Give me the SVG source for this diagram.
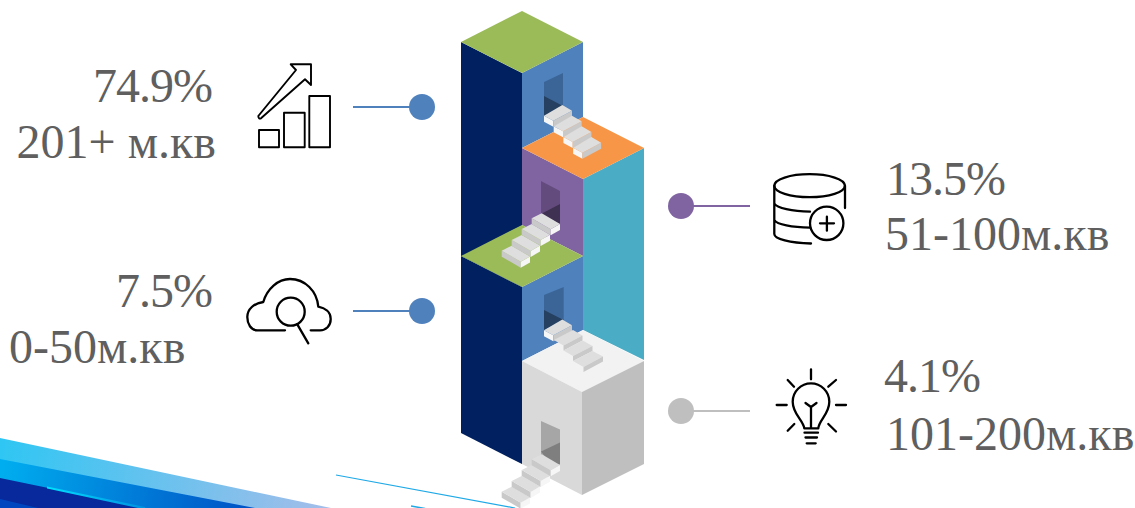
<svg xmlns="http://www.w3.org/2000/svg" width="1135" height="508" viewBox="0 0 1135 508">
<style>
text{font-family:"Liberation Serif","Times New Roman",serif;font-size:48px;fill:#5f5f5f}
.p{letter-spacing:-1px}
.e{text-anchor:end}
.ic{fill:none;stroke:#000;stroke-width:2.3;stroke-linecap:round;stroke-linejoin:round}
.t{fill:#dedede}.g{fill:#c9c9c9}.w{fill:#f6f6f6}
</style>
<defs>
<linearGradient id="g1" gradientUnits="userSpaceOnUse" x1="0" y1="450" x2="330" y2="508"><stop offset="0" stop-color="#2fc6f3"/><stop offset="1" stop-color="#a5bde9"/></linearGradient>
<linearGradient id="g2" gradientUnits="userSpaceOnUse" x1="0" y1="470" x2="255" y2="508"><stop offset="0" stop-color="#00aeef"/><stop offset="1" stop-color="#0050c4"/></linearGradient>
<linearGradient id="g3" gradientUnits="userSpaceOnUse" x1="48" y1="488" x2="145" y2="508"><stop offset="0" stop-color="#00e0ff"/><stop offset="1" stop-color="#0090e0"/></linearGradient>
<g id="sr"><polygon class="w" points="544,115.7 553.3,120.7 553.3,126.7 544,121.7"/><polygon class="g" points="553.3,120.7 572,110.7 572,116.7 553.3,126.7"/><polygon class="t" points="544,115.7 562.3,105 572,110.7 553.3,120.7"/></g>
<g id="sl"><polygon class="g" points="531.7,218.3 550.7,229.3 550.7,235.3 531.7,224.3"/><polygon class="w" points="550.7,229.3 560,224 560,230 550.7,235.3"/><polygon class="t" points="531.7,218.3 541.7,213.3 560,224 550.7,229.3"/></g>
</defs>

<g id="ribbon">
<polygon points="0,438 331,508 0,508" fill="url(#g1)"/>
<polygon points="0,459 255,508 0,508" fill="url(#g2)"/>
<polygon points="0,478 145,508 0,508" fill="#07299b"/>
<polygon points="0,499 38,508 0,508" fill="#0047bf"/>
<polygon points="47,486.5 145,507 145,508 138,508 47,488.5" fill="url(#g3)"/>
<path d="M336,475 L515,508" stroke="#1fa9e6" stroke-width="1.2" fill="none"/>
<path d="M411,506 L425,508.5" stroke="#1fa9e6" stroke-width="1.5" fill="none"/>
</g>

<g id="tower">
<polygon points="461,42 522,73 522,287 461,256" fill="#00205f"/>
<polygon points="461,256 522,287 522,464 461,433" fill="#00205f"/>
<polygon points="522,73 583,42 583,117 522,148" fill="#4f81bd"/>
<polygon points="522,148 583,179 583,256 522,225" fill="#8064a2"/>
<polygon points="583,179 644,148 644,360 583,330" fill="#4bacc6"/>
<polygon points="522,287 583,256 583,330 522,361" fill="#4f81bd"/>
<polygon points="461,42 522,11 583,42 522,73" fill="#9bbb59"/>
<polygon points="522,148 583,117 644,148 583,179" fill="#f79646"/>
<polygon points="461,256 522,225 583,256 522,287" fill="#9bbb59"/>
<polygon points="522,361 583,330 644,361 582,392" fill="#f2f2f2"/>
<polygon points="522,361 582,392 582,495 522,464" fill="#d9d9d9"/>
<polygon points="582,392 644,361 644,464 582,495" fill="#bfbfbf"/>

<polygon points="544,82 563,73 563,107 544,116" fill="#3b6597"/>
<polygon points="544,96 563,106 544,116" fill="#254061"/>
<polygon points="541,181 560,191 560,224 541,214" fill="#634c7d"/>
<polygon points="541,214 560,204 560,224" fill="#3f3151"/>
<polygon points="544,295 563.7,287 563.7,320 544,330" fill="#3b6597"/>
<polygon points="544,310 563.7,320 544,330" fill="#254061"/>
<polygon points="541,421 560,429.5 560,465 541,455" fill="#a6a6a6"/>
<polygon points="541,451.5 560,442.5 560,464 553,467" fill="#7f7f7f"/>
</g>

<g id="stairs-top">
<use href="#sr"/><use href="#sr" x="9.7" y="10.67"/><use href="#sr" x="19.4" y="21.33"/><use href="#sr" x="29.1" y="32"/>
</g>
<g id="stairs-middle">
<use href="#sl" x="-30" y="32.4"/><use href="#sl" x="-20" y="21.6"/><use href="#sl" x="-10" y="10.8"/><use href="#sl"/>
</g>
<g id="stairs-lower">
<use href="#sr" y="214.5"/>
<polygon points="553.8,340 573,330 582.5,335.5 563.5,345.5" fill="#dedede"/><polygon points="563.5,345.5 582.5,335.5 582.5,340.5 563.5,350.5" fill="#c9c9c9"/>
<polygon points="563.5,350.5 582.7,340.5 592.5,346 573,356" fill="#dedede"/><polygon points="573,356 592.5,346 592.5,351 573,361" fill="#c9c9c9"/>
<polygon points="573,361 592.5,351 603,356.5 583.5,367" fill="#dedede"/><polygon points="583.5,367 603,356.5 603,361.5 583.5,372" fill="#c9c9c9"/>
</g>
<g id="stairs-bottom">
<use href="#sl" x="-30" y="273.4"/><use href="#sl" x="-20" y="262.6"/><use href="#sl" x="-10" y="251.8"/><use href="#sl" x="0" y="241"/>
</g>

<g id="connectors">
<path d="M353,107H422" stroke="#4f81bd" stroke-width="2"/>
<path d="M353,311H422" stroke="#4f81bd" stroke-width="2"/>
<path d="M681,206H750" stroke="#8064a2" stroke-width="2"/>
<path d="M681,411H750" stroke="#bfbfbf" stroke-width="2"/>
</g>

<g id="node-large">
<text class="e p" x="212" y="102">74.9%</text>
<text class="e" x="216" y="158">201+ м.кв</text>
<g class="ic" style="stroke-width:1.9">
<rect x="259" y="130" width="20" height="17.3"/><rect x="284" y="112.7" width="20.7" height="34.6"/><rect x="309.3" y="96" width="20.7" height="51.3"/>
<path d="M290.7,64.3H311V85L305,79.3L261,118.3Q258.5,119.5 258.3,116L296,70Z"/>
</g>
<circle cx="422" cy="107" r="13" fill="#4f81bd"/>
</g>
<g id="node-small">
<text class="e p" x="212" y="307">7.5%</text>
<text x="9" y="363">0-50м.кв</text>
<g class="ic">
<path d="M285,330.3H257.3C251,330.3 247.3,324 247.3,317C247.3,309 254,303.3 263.3,302C267,289 278,279 290,279C305,279 317,291 318.3,306.7C325,308 330.7,312 330.7,319C330.7,326 326,330.3 320,330.3H310.7"/>
<circle cx="290.7" cy="311.7" r="14"/><path d="M297.3,324.3L308.3,343.3"/>
</g>
<circle cx="422" cy="311" r="13" fill="#4f81bd"/>
</g>
<g id="node-medium">
<text class="p" x="886" y="195">13.5%</text>
<text x="885" y="250">51-100м.кв</text>
<g class="ic">
<ellipse cx="809.6" cy="185.7" rx="35.3" ry="11.5"/>
<path d="M774.3,185.7V234C774.3,239 790,243 811,243.5M845,185.7V208M774.3,203.5C777,208 792,211.5 810,211.7M774.3,220C777,224.5 792,227.5 810,227.7"/>
<circle cx="826.7" cy="223.3" r="16.7"/><path d="M820,223.3H834M826.9,216.7V230.7"/>
</g>
<circle cx="681" cy="206" r="13" fill="#8064a2"/>
</g>
<g id="node-mid-large">
<text class="p" x="884" y="392">4.1%</text>
<text x="886" y="450">101-200м.кв</text>
<g class="ic">
<path d="M804.3,428.3C803,420 792.7,414 792.7,401.7A18.3,18.3 0 0 1 829.3,401.7C829.3,414 819,420 818.3,428.3ZM804.5,432.7H818M805.5,437.5H817M806.7,443.3H815.7M811,428V407M805.5,403L811,407L816.5,403"/>
<path d="M811,369.3V379.3M787.7,380L794,386.7M828.3,386.7L836,380M776.7,405H786.7M836,405H846M787.7,430.7L794.3,424M828.3,424L836,431.5"/>
</g>
<circle cx="681" cy="411" r="13" fill="#bfbfbf"/>
</g>
</svg>
